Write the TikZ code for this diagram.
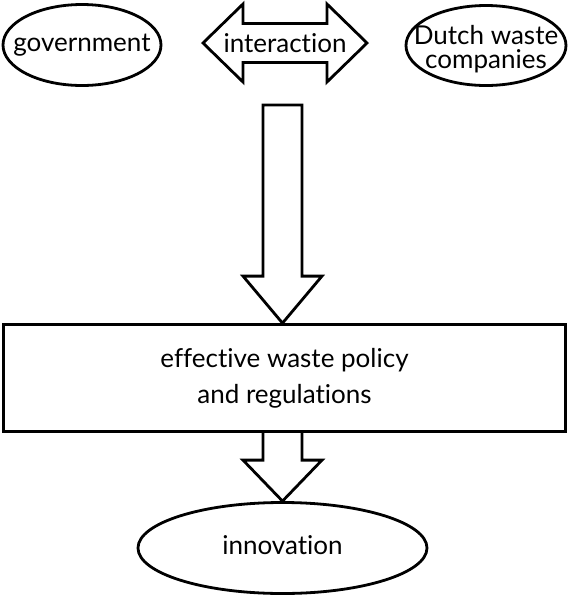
\documentclass[tikz,border=0pt]{standalone}
\usepackage{fontspec}
\setmainfont[Ligatures={NoCommon,NoContextual}]{Lato}
\usetikzlibrary{calc,shapes.geometric}

\tikzset{
  oval/.style={draw, ellipse, line width=1.4pt, inner sep=-10pt, align=center},
  policybox/.style={draw, line width=1.4pt, inner sep=0pt, align=center},
  bigarrow/.style={draw, line width=1.4pt, line join=miter},
}

\begin{document}
\begin{tikzpicture}[x=0.5pt, y=-0.5pt, font=\fontsize{13}{18}\selectfont]
\useasboundingbox (0,0) rectangle (569,596);

\node[oval, minimum width=79pt, minimum height=40.5pt] (government) at (82,45) {government};
\node[oval, minimum width=80pt, minimum height=40pt,
  label={[font=\fontsize{13}{11.8}\selectfont, align=center, yshift=-1.8pt]center:Dutch waste\\companies}] (dutch) at (486,45.5) {};
\node (interaction) at (285,43) {interaction};

\path[draw, bigarrow] ($(interaction)+(-82,0)$) -- ($(interaction)+(-42,-39)$) -- ($(interaction)+(-42,-19.5)$)
  -- ($(interaction)+(42,-19.5)$) -- ($(interaction)+(42,-39)$) -- ($(interaction)+(82,0)$)
  -- ($(interaction)+(42,39)$) -- ($(interaction)+(42,19.5)$) -- ($(interaction)+(-42,19.5)$)
  -- ($(interaction)+(-42,39)$) -- cycle;

\node[policybox, minimum width=281pt, minimum height=53.5pt] (policy) at (284.5,378) {effective waste policy\\and regulations};
\node[oval, minimum width=144.5pt, minimum height=45.5pt, text depth=3pt] (innovation) at (282.5,548) {innovation};

\coordinate (flowtop) at (282.5,105);
\coordinate (flowtip) at (flowtop |- policy.north);

% arrow down to the policy box
\path[draw, bigarrow] ($(flowtop)+(-19.5,0)$) -- ($(flowtip)+(-19.5,-47)$) -- ($(flowtip)+(-39.5,-47)$)
  -- (flowtip) -- ($(flowtip)+(39.5,-47)$) -- ($(flowtip)+(19.5,-47)$) -- ($(flowtop)+(19.5,0)$) -- cycle;

% arrow from the policy box to innovation
\path[draw, bigarrow] ($(policy.south -| flowtop)+(-19.5,0)$) -- ($(innovation.north)+(-19.5,-41)$)
  -- ($(innovation.north)+(-39.5,-41)$) -- (innovation.north) -- ($(innovation.north)+(39.5,-41)$)
  -- ($(innovation.north)+(19.5,-41)$) -- ($(policy.south -| flowtop)+(19.5,0)$);

\end{tikzpicture}
\end{document}
